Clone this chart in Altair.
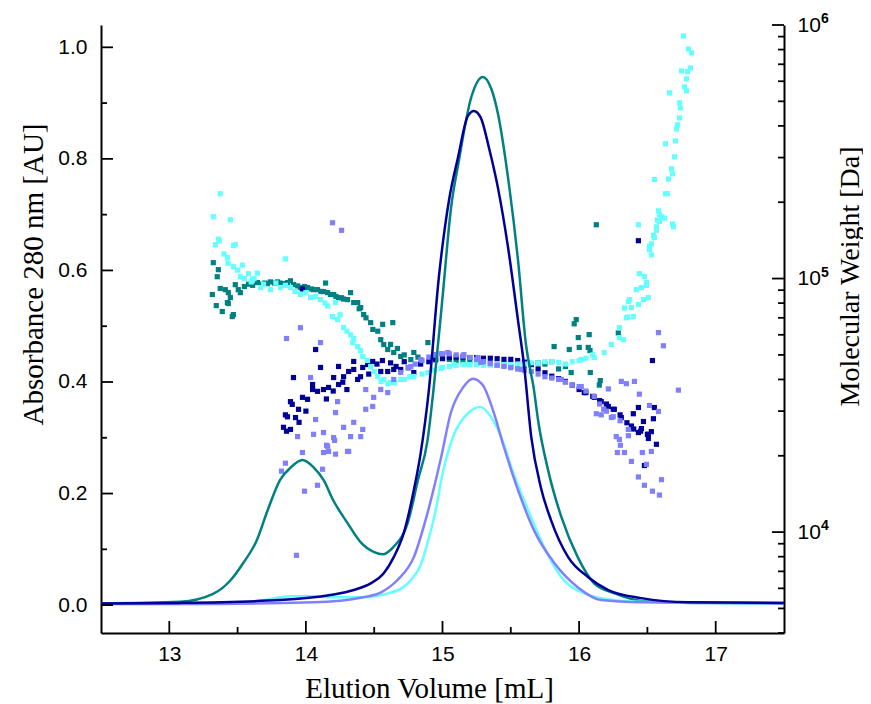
import altair as alt
import pandas as pd

# ---------------- absorbance traces (left axis, AU) ----------------
teal_x = [12.5, 13.08, 13.32, 13.45, 13.54, 13.64, 13.72, 13.81, 13.89, 13.975, 14.056, 14.13, 14.2, 14.305, 14.4,
          14.5, 14.56, 14.64, 14.745, 14.82, 14.89, 14.94, 15.003, 15.06, 15.12, 15.21, 15.296, 15.355, 15.406, 15.48,
          15.553, 15.61, 15.67, 15.70, 15.773, 15.87, 15.99, 16.11, 16.26, 16.48, 16.845, 17.5]
teal_abs = [0.003, 0.006, 0.02, 0.045, 0.075, 0.116, 0.17, 0.224, 0.247, 0.26, 0.247, 0.224, 0.188, 0.147, 0.113,
            0.095, 0.091, 0.104, 0.147, 0.224, 0.295, 0.40, 0.559, 0.707, 0.797, 0.91, 0.947, 0.927, 0.881, 0.766,
            0.618, 0.469, 0.385, 0.331, 0.242, 0.158, 0.086, 0.039, 0.021, 0.007, 0.004, 0.004]

navy_x = [12.5, 13.08, 13.81, 14.18, 14.35, 14.474, 14.57, 14.643, 14.716, 14.79, 14.84, 14.9, 14.973, 15.047,
          15.113, 15.186, 15.23, 15.28, 15.34, 15.406, 15.48, 15.553, 15.597, 15.65, 15.72, 15.795, 15.92, 16.067,
          16.214, 16.456, 16.8, 17.5]
navy_abs = [0.003, 0.004, 0.009, 0.018, 0.027, 0.039, 0.057, 0.086, 0.129, 0.206, 0.272, 0.385, 0.587, 0.725,
            0.802, 0.877, 0.886, 0.874, 0.82, 0.748, 0.641, 0.51, 0.43, 0.301, 0.211, 0.152, 0.086, 0.05,
            0.027, 0.0125, 0.005, 0.004]

cyan_x = [12.5, 13.08, 13.52, 13.69, 13.89, 14.056, 14.18, 14.42, 14.6, 14.7, 14.77, 14.84, 14.9, 14.95, 15.0,
          15.076, 15.186, 15.28, 15.355, 15.43, 15.52, 15.627, 15.744, 15.87, 16.04, 16.16, 16.456, 17.5]
cyan_abs = [0.002, 0.002, 0.004, 0.009, 0.016, 0.016, 0.014, 0.014, 0.021, 0.030, 0.045, 0.072, 0.12, 0.17, 0.235,
            0.301, 0.344, 0.355, 0.337, 0.301, 0.236, 0.17, 0.104, 0.05, 0.021, 0.0125, 0.006, 0.003]

purple_x = [12.5, 13.08, 14.056, 14.42, 14.55, 14.67, 14.79, 14.89, 14.99, 15.06, 15.15, 15.223, 15.296, 15.37,
            15.45, 15.553, 15.67, 15.82, 15.99, 16.16, 16.456, 17.5]
purple_abs = [0.002, 0.002, 0.005, 0.014, 0.023, 0.045, 0.086, 0.165, 0.265, 0.344, 0.39, 0.406, 0.394, 0.349,
              0.283, 0.206, 0.134, 0.075, 0.032, 0.009, 0.005, 0.003]

# ---------------- molecular weight scatter (right axis, Da) ----------------
teal_mw_pts = [
    (13.322, 115500), (13.359, 108400), (13.373, 91400), (13.410, 90400), (13.432, 88000), (13.447, 84100),
    (13.425, 80400), (13.344, 78200), (13.388, 74100), (13.432, 79700), (13.469, 72100), (13.483, 94600),
    (13.505, 90400), (13.520, 88000), (13.315, 86500), (13.351, 101700), (13.461, 70800),
    (13.55, 93000), (13.58, 95000), (13.61, 94000), (13.645, 96400), (13.67, 95000), (13.70, 96000),
    (13.718, 95500), (13.74, 97000), (13.77, 96000), (13.792, 97000), (13.81, 96000), (13.84, 95500),
    (13.865, 96400), (13.887, 98000), (13.91, 94600), (13.94, 93500), (13.96, 92100), (13.99, 93000),
    (14.012, 92100), (14.04, 91000), (14.056, 90400), (14.085, 90400), (14.11, 89000), (14.129, 88800),
    (14.144, 96000), (14.159, 88000), (14.18, 86500), (14.203, 86500), (14.22, 85000), (14.239, 84100),
    (14.261, 84000), (14.276, 83000), (14.305, 82600), (14.327, 88000), (14.35, 80400), (14.379, 80400),
    (14.39, 76000), (14.401, 76800), (14.423, 72100), (14.44, 70000), (14.474, 67000), (14.49, 63000),
    (14.526, 62000), (14.548, 57400), (14.562, 66000), (14.57, 54900), (14.599, 52500), (14.62, 55000),
    (14.636, 67000), (14.643, 51100), (14.67, 53000), (14.694, 49300), (14.72, 50000), (14.768, 47900),
    (14.79, 51100), (14.82, 49000), (14.893, 55900),
    (14.95, 48500), (15.0, 48500), (15.05, 48000), (15.1, 47500), (15.15, 47000), (15.2, 47000),
    (15.25, 46500), (15.3, 46500), (15.35, 46000), (15.4, 45500), (15.45, 45500), (15.5, 45000),
    (15.55, 45500), (15.6, 45000), (15.65, 45800), (15.7, 46500), (15.75, 46000), (15.8, 47000),
    (15.85, 44000), (15.9, 45000),
    (15.817, 53900), (15.928, 52500), (15.942, 42600), (15.964, 66300), (15.979, 68900), (15.994, 58500),
    (16.001, 53500), (16.067, 53500), (16.074, 60100), (16.080, 52000), (16.082, 42600), (16.126, 163000),
    (16.155, 39600), (16.148, 38000), (16.287, 61000),
]

navy_mw_pts = [
    (13.836, 25900), (13.858, 25000), (13.887, 25400), (13.85, 29000), (13.865, 28500), (13.924, 28300),
    (13.946, 30500), (13.887, 32700), (13.975, 34000), (14.012, 33400), (14.049, 36500), (14.085, 35900),
    (14.129, 36500), (14.166, 37200), (14.203, 40700), (14.239, 38200), (14.276, 41000), (14.313, 43000),
    (14.35, 43800), (14.379, 40000), (14.416, 44600), (14.452, 45800), (14.489, 47100), (14.548, 43000),
    (14.599, 43000), (14.643, 43800), (14.694, 43800), (14.79, 42600), (13.909, 40700), (14.071, 52500),
    (14.107, 44600), (14.239, 45000), (14.35, 47100), (14.049, 38200), (13.975, 91000), (13.9, 31900),
    (13.95, 27100), (14.0, 30000), (14.15, 33500), (14.2, 36000), (14.27, 39000), (14.3, 36500),
    (14.4, 41000), (14.46, 42000), (14.52, 46000), (14.56, 47500), (14.62, 46500), (14.66, 45000),
    (14.72, 47000), (14.75, 44500),
    (14.84, 46000), (14.9, 47000), (14.95, 47800), (15.0, 48300), (15.05, 48800), (15.1, 49000),
    (15.15, 49000), (15.2, 48800), (15.25, 48800), (15.3, 48500), (15.35, 48500), (15.4, 48300),
    (15.45, 48000), (15.5, 48000), (15.55, 47500), (15.6, 46800), (15.65, 45800), (15.7, 44000),
    (15.75, 42500), (15.8, 41200), (15.85, 40300), (15.9, 39300), (15.95, 38000), (16.0, 36500),
    (16.05, 35500), (16.1, 34300), (16.15, 33000), (16.2, 32000), (16.25, 30500), (16.3, 29000),
    (16.35, 27000), (16.4, 25500), (16.45, 25000), (16.5, 24300),
    (16.214, 31300), (16.258, 30500), (16.309, 28300), (16.383, 26200), (16.434, 24700), (16.507, 24300),
    (16.529, 24900), (16.566, 22200), (16.478, 18300), (16.434, 31000), (16.551, 31000), (16.544, 28000),
    (16.471, 27300), (16.397, 29300), (16.507, 23400), (16.456, 25600), (16.434, 141000), (16.537, 47500),
    (16.111, 34000), (16.162, 32700), (16.038, 35500),
]

cyan_mw_pts = [
    (13.373, 216000), (13.322, 175300), (13.447, 170600), (13.337, 136000), (13.366, 141000), (13.425, 120900),
    (13.483, 136000), (13.469, 111400), (13.535, 113000), (13.52, 101700), (13.579, 104500), (13.645, 105000),
    (13.608, 99000), (13.667, 92100), (13.74, 90400), (13.814, 92100), (13.887, 92100), (13.96, 86500),
    (14.034, 84100), (14.107, 82600), (14.159, 78000), (14.195, 70800), (14.232, 68900), (14.276, 64100),
    (14.327, 60000), (14.342, 55900), (14.379, 53900), (14.416, 49300), (14.474, 45000), (14.526, 41100),
    (14.57, 40000), (14.621, 38900), (14.694, 40000), (14.79, 41100), (14.893, 42600), (14.988, 44200),
    (15.083, 45800), (15.186, 45800), (13.85, 119600), (14.217, 80400), (13.36, 143000), (13.47, 135000),
    (13.4, 125000), (13.43, 115000), (13.5, 108000), (13.55, 100000), (13.6, 97000), (13.62, 100000),
    (13.69, 95000), (13.78, 96000), (13.85, 94000), (13.92, 89000), (14.0, 88000), (14.07, 85000),
    (14.14, 80000), (14.25, 72000), (14.3, 62000), (14.35, 58000), (14.4, 52000), (14.45, 47500),
    (14.5, 43000), (14.55, 39300), (14.6, 38500), (14.65, 38900), (14.72, 40000), (14.76, 41000),
    (14.85, 42000), (14.94, 43500),
    (15.0, 44600), (15.05, 45000), (15.1, 45500), (15.15, 45800), (15.2, 45800), (15.25, 45800),
    (15.3, 45500), (15.35, 45500), (15.4, 45500), (15.45, 45800), (15.5, 45800), (15.55, 46000),
    (15.6, 46000), (15.65, 46500), (15.7, 46500), (15.75, 47000), (15.8, 47100), (15.85, 46700),
    (15.9, 46000), (15.95, 47000), (16.0, 47500), (16.05, 48500), (16.1, 50000),
    (16.016, 47900), (16.111, 48800), (16.184, 51100), (16.236, 55000), (16.295, 58500), (16.324, 57400),
    (16.346, 70000), (16.397, 70800), (16.383, 76800), (16.434, 79000), (16.368, 82600), (16.471, 82600),
    (16.419, 90400), (16.456, 92100), (16.507, 84100), (16.493, 96400), (16.441, 104500), (16.478, 102000),
    (16.529, 124000), (16.515, 130000), (16.551, 145000), (16.566, 155000), (16.581, 185000), (16.603, 175300),
    (16.625, 173000), (16.434, 163000), (16.691, 160000), (16.588, 168000), (16.632, 216000), (16.551, 246000),
    (16.764, 905000), (16.8, 804000), (16.822, 776000), (16.749, 659000), (16.793, 655000), (16.815, 677000),
    (16.786, 613000), (16.771, 570000), (16.786, 550000), (16.662, 540000), (16.735, 493000), (16.742, 471000),
    (16.735, 430000), (16.72, 404000), (16.713, 389000), (16.705, 349000), (16.632, 340000), (16.698, 302000),
    (16.676, 271000), (16.684, 259000), (16.654, 247000), (16.647, 216000), (16.588, 179000), (16.573, 170000),
    (16.684, 164000), (16.566, 160000), (16.544, 148000), (16.529, 137000), (16.515, 134000),
    (16.493, 94000), (16.361, 81000), (16.332, 76500), (16.354, 70500), (16.295, 64000),
]

purple_mw_pts = [
    (13.858, 58000), (13.96, 64000), (14.195, 166000), (14.261, 155000), (14.107, 55900), (14.034, 40700),
    (14.071, 27800), (13.939, 23800), (14.056, 24300), (14.129, 24700), (14.203, 23600), (14.159, 21800),
    (14.129, 20600), (14.217, 20300), (14.305, 20800), (14.276, 25900), (14.35, 27100), (14.416, 25400),
    (14.327, 23800), (14.401, 23800), (14.217, 29600), (14.232, 32700), (14.438, 30500), (14.489, 31300),
    (14.438, 36500), (14.496, 34000), (14.548, 36500), (14.599, 35500), (14.643, 40000), (14.694, 42600),
    (14.768, 45000), (14.841, 47900), (14.937, 50100), (15.039, 51100), (15.157, 50100), (15.26, 48800),
    (13.975, 20600), (13.821, 17400), (13.85, 18700), (14.122, 17700), (14.085, 15300), (13.99, 14500),
    (13.931, 8100), (14.151, 22000), (14.166, 20800), (14.21, 23000), (14.313, 20800),
    (14.75, 44500), (14.8, 46000), (14.85, 47500), (14.9, 49000), (14.95, 50000), (14.99, 50500),
    (15.0, 50500), (15.05, 50500), (15.1, 50000), (15.15, 49500), (15.2, 48800), (15.25, 48000),
    (15.28, 46700), (15.3, 47000), (15.35, 46200), (15.4, 45500), (15.45, 45000), (15.5, 44500),
    (15.55, 44000), (15.575, 43800), (15.6, 43500), (15.65, 43000), (15.7, 42000), (15.75, 41000),
    (15.8, 40500), (15.85, 40000), (15.87, 40000), (15.9, 39000), (15.95, 38000), (16.0, 37500),
    (16.016, 37500), (16.05, 36000), (16.11, 34300), (16.15, 32000), (16.18, 30500), (16.2, 30000),
    (16.25, 28500), (16.3, 27500), (16.36, 25400),
    (16.581, 61200), (16.617, 54300), (16.727, 36300), (16.346, 38500), (16.405, 39300), (16.441, 35000),
    (16.581, 29900), (16.515, 31600), (16.361, 24000), (16.272, 23800), (16.302, 22000), (16.332, 20600),
    (16.383, 19000), (16.434, 16500), (16.478, 15300), (16.537, 14500), (16.588, 14000), (16.603, 16100),
    (16.529, 20800), (16.493, 18500), (16.463, 20600), (16.162, 29000), (16.236, 28300), (16.126, 29300),
    (16.214, 36700), (16.309, 39300), (16.295, 23200), (16.28, 20600),
]

# ---------------- axis tick values / labels ----------------
x_major = [13, 14, 15, 16, 17]
x_minor = [13.5, 14.5, 15.5, 16.5]
left_major = [0.0, 0.2, 0.4, 0.6, 0.8, 1.0]
left_minor = [0.1, 0.3, 0.5, 0.7, 0.9]
right_major = [1e4, 1e5, 1e6]
right_exponents = ["4", "5", "6"]
right_minor = [4000, 5000, 6000, 7000, 8000, 9000,
               20000, 30000, 40000, 50000, 60000, 70000, 80000, 90000,
               200000, 300000, 400000, 500000, 600000, 700000, 800000, 900000]

COL = {"teal": "#008080", "navy": "#000099", "cyan": "#66FFFF", "purple": "#8080FF"}
SANS = "Liberation Sans, Arial, sans-serif"
SERIF = "Liberation Serif, Times New Roman, serif"
W, H = 683, 608
MAJ, MIN = 12, 6

x_enc = alt.X(
    "x:Q",
    scale=alt.Scale(domain=[12.5, 17.5], nice=False, zero=False),
    axis=alt.Axis(values=x_major, format="d", ticks=False, grid=False, domain=True,
                  domainColor="black", domainWidth=2, labelFont=SANS, labelFontSize=21,
                  labelColor="black", labelPadding=10, labelFlush=False,
                  title="Elution Volume [mL]", titleFont=SERIF, titleFontSize=29,
                  titleFontWeight="normal", titleColor="black", titleX=328, titleY=64,
                  titleAlign="center", titleBaseline="alphabetic"),
)

y_left = alt.Y(
    "A:Q",
    scale=alt.Scale(domain=[-0.05, 1.04], nice=False, zero=False),
    axis=alt.Axis(orient="left", values=left_major, format=".1f", ticks=False, grid=False,
                  domain=True, domainColor="black", domainWidth=2, labelFont=SANS,
                  labelFontSize=21, labelColor="black", labelPadding=14, labelFlush=False,
                  title="Absorbance 280 nm [AU]", titleFont=SERIF, titleFontSize=29,
                  titleFontWeight="normal", titleColor="black", titleAngle=270,
                  titleX=-68, titleY=249, titleAlign="center", titleBaseline="middle"),
)

y_right = alt.Y(
    "MW:Q",
    scale=alt.Scale(type="log", domain=[4000, 1000000], nice=False, zero=False),
    axis=alt.Axis(orient="right", values=right_major, ticks=False, grid=False, domain=True,
                  domainColor="black", domainWidth=2, labelFont=SANS, labelFontSize=21,
                  labelColor="black", labelPadding=13, labelFlush=False,
                  labelExpr="'10'",
                  title="Molecular Weight [Da]", titleFont=SERIF, titleFontSize=28,
                  titleFontWeight="normal", titleColor="black", titleAngle=270,
                  titleX=74, titleY=251, titleAlign="center", titleBaseline="alphabetic"),
)


def line_layer(xs, ys, color):
    df = pd.DataFrame({"x": xs, "A": ys})
    return alt.Chart(df).mark_line(color=color, strokeWidth=2.5, interpolate="monotone").encode(
        x=x_enc, y=y_left)


def pts_layer(pts, color):
    df = pd.DataFrame(pts, columns=["x", "MW"])
    return alt.Chart(df).mark_square(color=color, size=27, opacity=1).encode(x=x_enc, y=y_right)


tick_style = dict(color="black", strokeWidth=1.8)

xt_major = alt.Chart(pd.DataFrame({"x": x_major})).mark_rule(**tick_style).encode(
    x=x_enc, y=alt.value(H), y2=alt.value(H - MAJ))
xt_minor = alt.Chart(pd.DataFrame({"x": x_minor})).mark_rule(**tick_style).encode(
    x=x_enc, y=alt.value(H), y2=alt.value(H - MIN))
lt_major = alt.Chart(pd.DataFrame({"A": left_major})).mark_rule(**tick_style).encode(
    y=y_left, x=alt.value(0), x2=alt.value(MAJ))
lt_minor = alt.Chart(pd.DataFrame({"A": left_minor})).mark_rule(**tick_style).encode(
    y=y_left, x=alt.value(0), x2=alt.value(MIN))
rt_major = alt.Chart(pd.DataFrame({"MW": right_major})).mark_rule(**tick_style).encode(
    y=y_right, x=alt.value(W), x2=alt.value(W - MAJ))
rt_minor = alt.Chart(pd.DataFrame({"MW": right_minor})).mark_rule(**tick_style).encode(
    y=y_right, x=alt.value(W), x2=alt.value(W - MIN))

# superscript exponents of the right-axis labels (10^4, 10^5, 10^6)
rt_exp = alt.Chart(pd.DataFrame({"MW": right_major, "e": right_exponents})).mark_text(
    align="left", baseline="alphabetic", font=SANS, fontSize=14, fontWeight="bold",
    color="black", dy=-2,
).encode(y=y_right, x=alt.value(W + 37), text="e:N")

points_group = alt.layer(
    pts_layer(teal_mw_pts, COL["teal"]),
    pts_layer(navy_mw_pts, COL["navy"]),
    pts_layer(cyan_mw_pts, COL["cyan"]),
    pts_layer(purple_mw_pts, COL["purple"]),
    rt_major, rt_minor, rt_exp,
)

lines_group = alt.layer(
    line_layer(teal_x, teal_abs, COL["teal"]),
    line_layer(cyan_x, cyan_abs, COL["cyan"]),
    line_layer(purple_x, purple_abs, COL["purple"]),
    line_layer(navy_x, navy_abs, COL["navy"]),
    lt_major, lt_minor, xt_major, xt_minor,
)

chart = (
    alt.layer(points_group, lines_group)
    .resolve_scale(y="independent")
    .properties(width=W, height=H, autosize=alt.AutoSizeParams(type="none"),
                padding={"left": 93, "top": 17, "right": 79, "bottom": 71},
                background="white")
    .configure_view(stroke=None)
)

chart.save("out.html", embed_options={"renderer": "svg", "actions": False})
